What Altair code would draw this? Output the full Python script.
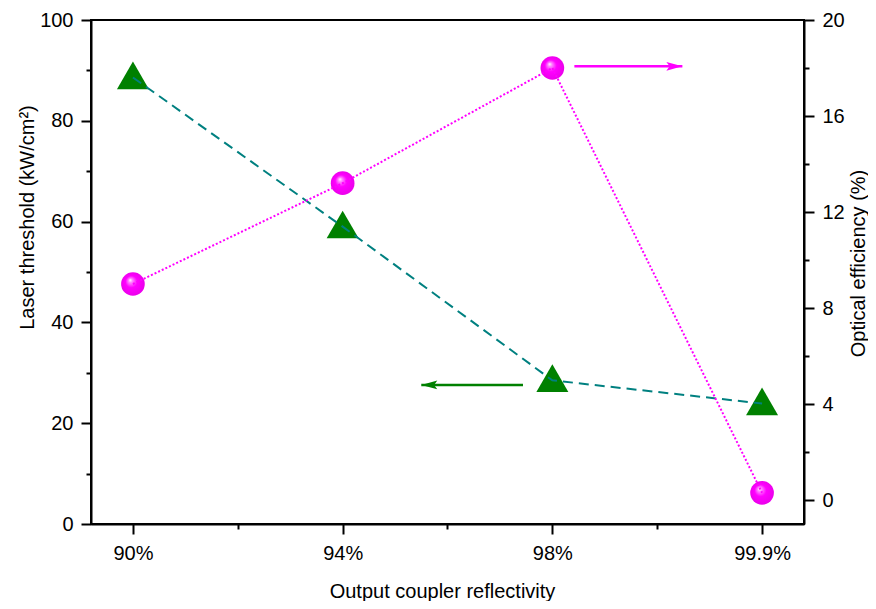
import altair as alt
import pandas as pd

# ---- data ----
categories = ["90%", "94%", "98%", "99.9%"]
positions = [0, 1, 2, 3]
threshold = [88.6, 59.0, 28.5, 23.9]      # Laser threshold (kW/cm2), left axis
efficiency = [9.0, 13.2, 18.0, 0.3]       # Optical efficiency (%), right axis

left_ticks = [0, 10, 20, 30, 40, 50, 60, 70, 80, 90, 100]
right_ticks = [0, 2, 4, 6, 8, 10, 12, 14, 16, 18, 20]
x_ticks = [0, 0.5, 1, 1.5, 2, 2.5, 3]

# arrow annotations (tail, tip) in data units
thr_arrow_x = [1.86, 1.375]
thr_arrow_y = [27.6]
eff_arrow_x = [2.105, 2.62]
eff_arrow_y = [18.07]

FONT = "Liberation Sans"
GREEN = "#008000"
TEAL = "#008080"
MAGENTA = "#ff00ff"

df = pd.DataFrame({"pos": positions, "cat": categories,
                   "threshold": threshold, "efficiency": efficiency})
thr_arrow = pd.DataFrame({"x": [thr_arrow_x[0]], "x2": [thr_arrow_x[1]], "y": thr_arrow_y})
thr_tip = pd.DataFrame({"x": [thr_arrow_x[1]], "y": thr_arrow_y})
eff_arrow = pd.DataFrame({"x": [eff_arrow_x[0]], "x2": [eff_arrow_x[1]], "y": eff_arrow_y})
eff_tip = pd.DataFrame({"x": [eff_arrow_x[1]], "y": eff_arrow_y})

label_array = "[" + ",".join("'%s'" % c for c in categories) + "]"

x_scale = alt.Scale(domain=[-0.2, 3.2], nice=False, zero=False)
x_axis = alt.Axis(
    values=x_ticks,
    labelExpr=label_array + "[datum.value] || ''",
    tickSize={"condition": {"test": "datum.value % 1 !== 0", "value": 5}, "value": 10},
    labelPadding=9, labelFlush=False, labelOverlap=False,
    title="Output coupler reflectivity",
    titleX=351, titleY=73, titleBaseline="alphabetic", titleAnchor="start",
    titleAlign="center",
)

left_scale = alt.Scale(domain=[0, 100], nice=False, zero=False)
left_axis = alt.Axis(
    values=left_ticks,
    labelExpr="datum.value % 20 === 0 ? datum.label : ''",
    tickSize={"condition": {"test": "datum.value % 20 !== 0", "value": 5}, "value": 10},
    labelPadding=8, labelFlush=False, labelOverlap=False,
    title="Laser threshold (kW/cm²)",
    titleX=-58, titleY=197, titleAngle=270, titleBaseline="alphabetic",
    titleAlign="center",
)

right_scale = alt.Scale(domain=[-1, 20], nice=False, zero=False)
right_axis = alt.Axis(
    orient="right",
    values=right_ticks,
    labelExpr="datum.value % 4 === 0 ? datum.label : ''",
    tickSize={"condition": {"test": "datum.value % 4 !== 0", "value": 5}, "value": 10},
    labelPadding=8, labelFlush=False, labelOverlap=False,
    title="Optical efficiency (%)",
    titleX=60, titleY=243, titleAngle=270, titleBaseline="alphabetic",
    titleAlign="center",
)

X = alt.X("pos:Q", scale=x_scale, axis=x_axis)

# ---- threshold group (left axis) ----
tri = alt.Chart(df).mark_point(
    shape="M0,-1L1,0.732L-1,0.732Z", size=1024, filled=True,
    color=GREEN, opacity=1, strokeWidth=0,
).encode(x=X, y=alt.Y("threshold:Q", scale=left_scale, axis=left_axis))

thr_line = alt.Chart(df).mark_line(
    color=TEAL, strokeWidth=2, strokeDash=[10, 6],
).encode(x=X, y=alt.Y("threshold:Q", scale=left_scale, axis=left_axis))

thr_arrow_line = alt.Chart(thr_arrow).mark_rule(color=GREEN, strokeWidth=2.5).encode(
    x=alt.X("x:Q", scale=x_scale, axis=x_axis), x2="x2:Q",
    y=alt.Y("y:Q", scale=left_scale, axis=left_axis),
)
thr_arrow_head = alt.Chart(thr_tip).mark_point(
    shape="M0,0L2,-0.55L1.6,0L2,0.55Z", size=256, filled=True,
    color=GREEN, opacity=1, strokeWidth=0,
).encode(
    x=alt.X("x:Q", scale=x_scale, axis=x_axis),
    y=alt.Y("y:Q", scale=left_scale, axis=left_axis),
)

group_thr = alt.layer(tri, thr_line, thr_arrow_line, thr_arrow_head)

# ---- efficiency group (right axis) ----
sphere = alt.RadialGradient(
    gradient="radial",
    stops=[
        alt.GradientStop(offset=0, color="#ffffff"),
        alt.GradientStop(offset=0.15, color="#ff88ff"),
        alt.GradientStop(offset=0.45, color="#ff00ff"),
        alt.GradientStop(offset=1, color="#e800e8"),
    ],
    x1=0.38, y1=0.33, r1=0, x2=0.5, y2=0.5, r2=0.55,
)

circ = alt.Chart(df).mark_point(
    shape="circle", size=560, filled=True, fill=sphere, opacity=1, strokeWidth=0,
).encode(x=X, y=alt.Y("efficiency:Q", scale=right_scale, axis=right_axis))

eff_line = alt.Chart(df).mark_line(
    color=MAGENTA, strokeWidth=2, strokeDash=[2, 2],
).encode(x=X, y=alt.Y("efficiency:Q", scale=right_scale, axis=right_axis))

eff_arrow_line = alt.Chart(eff_arrow).mark_rule(color=MAGENTA, strokeWidth=2.5).encode(
    x=alt.X("x:Q", scale=x_scale, axis=x_axis), x2="x2:Q",
    y=alt.Y("y:Q", scale=right_scale, axis=right_axis),
)
eff_arrow_head = alt.Chart(eff_tip).mark_point(
    shape="M0,0L-2,-0.55L-1.6,0L-2,0.55Z", size=256, filled=True,
    color=MAGENTA, opacity=1, strokeWidth=0,
).encode(
    x=alt.X("x:Q", scale=x_scale, axis=x_axis),
    y=alt.Y("y:Q", scale=right_scale, axis=right_axis),
)

group_eff = alt.layer(circ, eff_line, eff_arrow_line, eff_arrow_head)

chart = alt.layer(group_thr, group_eff).resolve_scale(y="independent").properties(
    width=713, height=504,
    autosize=alt.AutoSizeParams(type="none"),
    padding={"left": 83, "top": 12, "right": 64, "bottom": 77},
).configure(
    font=FONT,
).configure_axis(
    labelFont=FONT, titleFont=FONT, labelFontSize=20, titleFontSize=20,
    labelColor="black", titleColor="black", titleFontWeight="normal",
    domainColor="black", tickColor="black", domainWidth=2, tickWidth=2,
    grid=False,
).configure_view(stroke="black", strokeWidth=2)

chart.save("out.html", embed_options={"renderer": "svg", "actions": False})
